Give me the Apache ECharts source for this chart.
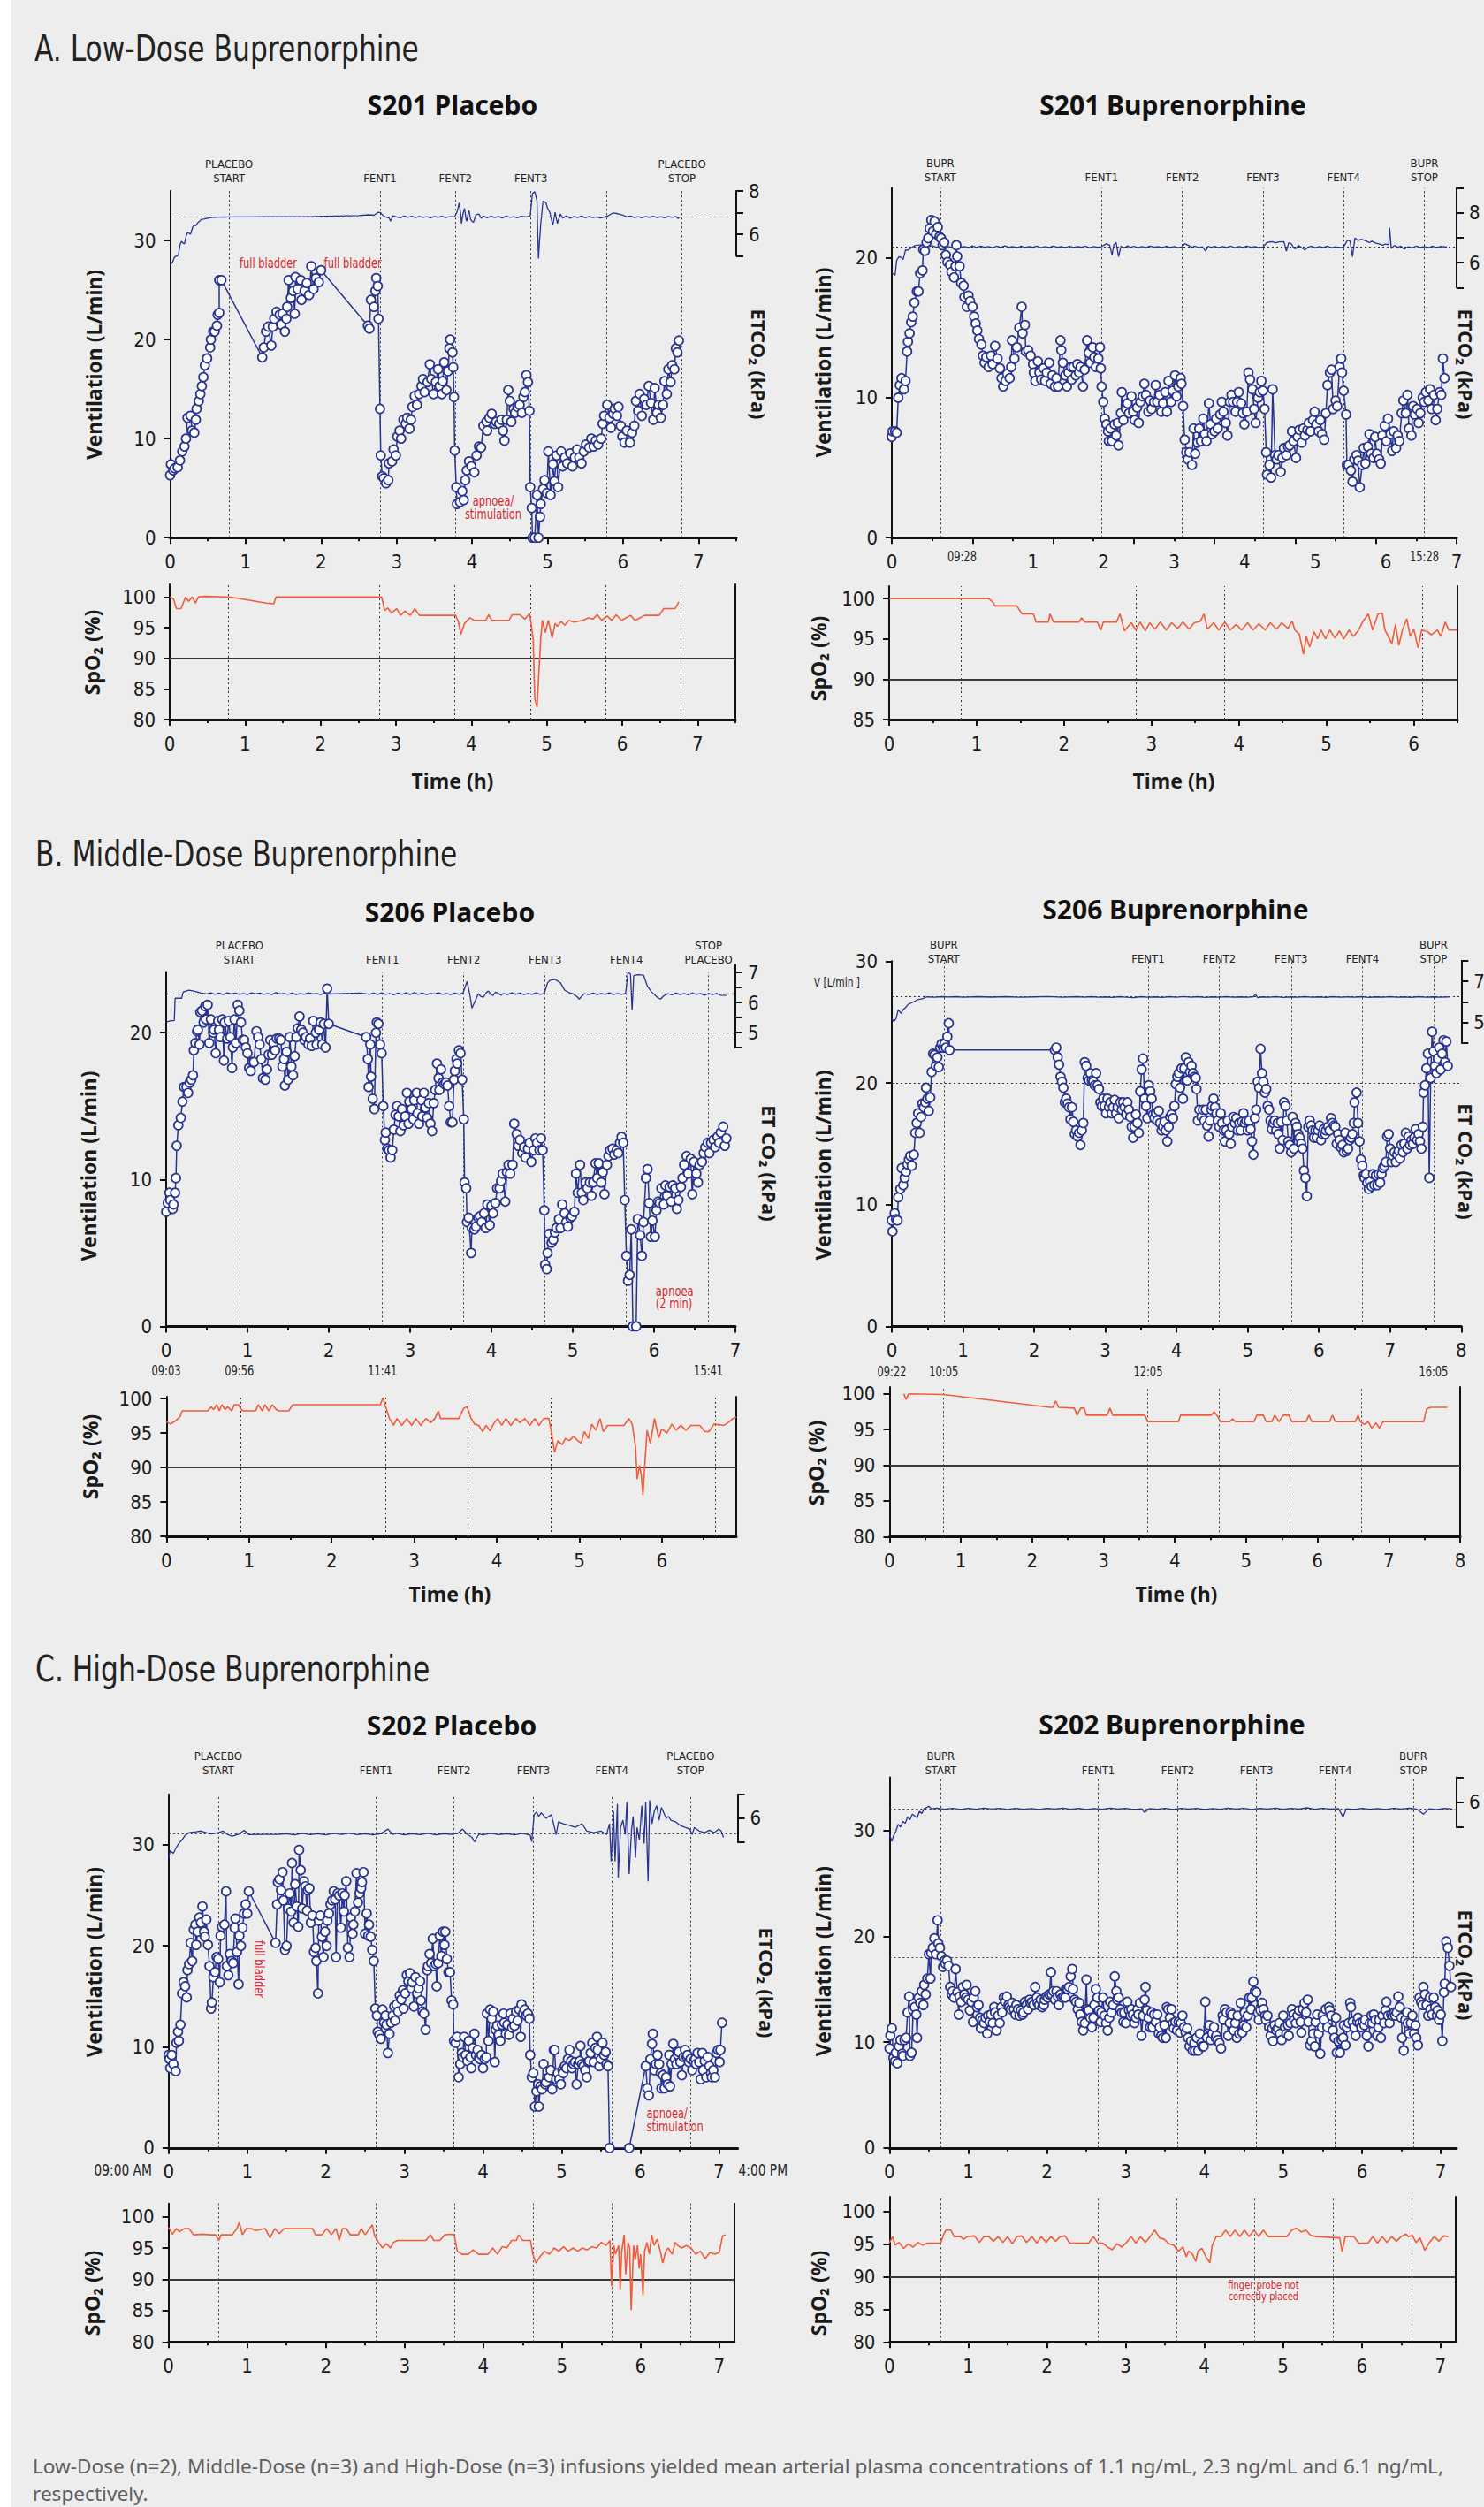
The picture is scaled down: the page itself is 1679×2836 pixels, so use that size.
<!DOCTYPE html>
<html><head><meta charset="utf-8">
<script src="https://cdn.jsdelivr.net/npm/echarts@6/dist/echarts.min.js"></script>
<style>
html,body{margin:0;padding:0;background:#ededed;}
#c{width:1679px;height:2836px;background:linear-gradient(to right,#ffffff 0,#ffffff 13px,#ededed 13px);}
</style></head><body><div id="c"></div>
<script>
// ---------------- DATA ----------------
// Time in hours, ventilation in L/min, ETCO2 in kPa, SpO2 in %
const ventA1 = [[0,6.3],[0.01,7.4],[0.04,6.8],[0.06,7.0],[0.1,7.1],[0.13,7.8],[0.16,8.7],[0.19,9.2],[0.21,10.0],[0.23,12.1],[0.27,12.3],[0.29,10.8],[0.32,10.6],[0.34,11.9],[0.35,13.0],[0.38,13.8],[0.4,14.5],[0.42,15.3],[0.44,16.2],[0.46,17.4],[0.49,18.1],[0.53,19.2],[0.54,20.0],[0.57,20.8],[0.59,20.8],[0.62,21.4],[0.63,22.5],[0.65,22.7],[0.65,26.0],[0.68,26.0],
[1.22,18.2],[1.24,19.2],[1.27,20.8],[1.3,21.3],[1.34,19.4],[1.36,21.3],[1.38,22.1],[1.41,22.8],[1.45,22.5],[1.47,21.5],[1.49,22.6],[1.52,20.8],[1.54,22.1],[1.55,23.3],[1.57,26.0],[1.6,24.2],[1.63,24.9],[1.65,22.6],[1.66,26.3],[1.69,25.1],[1.73,26.0],[1.74,24.0],[1.78,24.9],[1.81,25.7],[1.84,24.5],[1.87,27.4],[1.9,25.1],[1.93,26.2],[1.97,25.8],[2.0,27.0],
[2.62,21.4],[2.64,21.1],[2.66,24.0],[2.7,23.3],[2.72,24.9],[2.73,26.2],[2.75,25.4],[2.76,22.1],[2.78,13.0],[2.79,8.3],[2.81,6.2],[2.83,6.0],[2.86,5.5],[2.89,5.8],[2.9,7.5],[2.94,7.7],[2.96,8.9],[2.99,8.3],[3.01,10.2],[3.04,10.8],[3.06,10.0],[3.09,11.9],[3.12,11.5],[3.14,12.1],[3.17,11.0],[3.19,11.9],[3.21,13.2],[3.24,14.3],[3.27,13.4],[3.3,14.5],[3.33,15.3],[3.35,16.0],[3.37,14.7],[3.41,15.7],[3.44,17.5],[3.46,16.0],[3.49,14.5],[3.52,15.7],[3.55,17.0],[3.57,15.3],[3.6,14.5],[3.61,15.8],[3.63,17.7],[3.66,14.9],[3.68,16.8],[3.7,19.1],[3.71,20.0],[3.74,18.7],[3.75,17.2],[3.76,14.2],[3.77,8.8],[3.79,5.1],[3.8,3.4],[3.84,3.6],[3.87,4.7],[3.89,3.8],[3.91,5.8],[3.93,6.8],[3.96,7.7],[3.99,7.2],[4.03,6.6],[4.06,8.3],[4.09,9.2],[4.12,9.1],[4.15,11.3],[4.19,11.7],[4.2,10.8],[4.23,12.1],[4.26,12.5],[4.3,11.5],[4.32,11.7],[4.36,11.5],[4.39,11.9],[4.41,10.8],[4.43,9.8],[4.46,11.9],[4.48,14.9],[4.5,13.8],[4.52,11.7],[4.55,13.0],[4.57,12.6],[4.6,13.2],[4.63,13.4],[4.66,12.6],[4.68,14.2],[4.7,14.7],[4.72,16.4],[4.74,15.7],[4.76,12.8],[4.77,5.1],[4.79,3.0],[4.8,0],[4.83,0],[4.86,4.3],[4.88,0],[4.9,2.1],[4.91,3.4],[4.94,4.9],[4.96,5.8],[4.99,4.5],[5.01,8.7],[5.04,4.3],[5.07,7.4],[5.09,5.7],[5.12,8.3],[5.14,5.1],[5.18,8.7],[5.2,7.2],[5.23,8.1],[5.26,7.5],[5.3,8.5],[5.33,7.2],[5.36,8.1],[5.39,8.9],[5.42,8.1],[5.45,7.5],[5.48,8.7],[5.51,9.4],[5.55,9.1],[5.58,10.0],[5.61,9.2],[5.64,9.8],[5.67,9.4],[5.71,10.0],[5.73,11.5],[5.75,12.3],[5.79,13.4],[5.82,12.1],[5.84,11.1],[5.87,12.5],[5.89,13.0],[5.92,12.3],[5.94,13.2],[5.97,11.3],[5.99,10.2],[6.02,9.6],[6.05,10.8],[6.09,9.6],[6.12,10.6],[6.15,11.3],[6.17,13.8],[6.2,12.8],[6.22,14.5],[6.25,12.3],[6.28,14.0],[6.31,13.4],[6.34,15.3],[6.37,13.6],[6.4,11.9],[6.42,15.1],[6.45,12.6],[6.47,13.4],[6.5,12.1],[6.53,13.4],[6.55,15.8],[6.58,14.5],[6.6,17.0],[6.63,15.7],[6.65,17.4],[6.68,17.0],[6.7,19.1],[6.72,18.7],[6.74,19.9]];
const etA1 = [[0,4.62],[0.03,4.7],[0.06,4.96],[0.09,5.0],[0.11,5.05],[0.13,5.5],[0.15,5.68],[0.17,5.6],[0.19,5.56],[0.21,5.9],[0.23,6.08],[0.25,6.05],[0.27,6.0],[0.3,6.35],[0.32,6.42],[0.34,6.4],[0.36,6.51],[0.39,6.6],[0.41,6.68],[0.46,6.71],[0.54,6.77],[0.65,6.79],[0.78,6.8],[1.0,6.8],[1.3,6.81],[1.6,6.81],[1.9,6.82],[2.2,6.84],[2.5,6.86],[2.63,6.9],[2.7,6.88],[2.76,7.02],[2.79,7.0],[2.81,6.9],[2.85,6.8],[2.9,6.75],[2.92,6.6],[2.95,6.85],[3.0,6.8],[3.05,6.76],[3.1,6.84],[3.15,6.78],[3.2,6.83],[3.25,6.77],[3.3,6.82],[3.35,6.78],[3.4,6.81],[3.45,6.76],[3.5,6.82],[3.55,6.78],[3.6,6.83],[3.65,6.77],[3.7,6.81],[3.77,6.82],[3.8,7.02],[3.83,7.45],[3.85,6.9],[3.86,6.5],[3.88,6.95],[3.9,7.2],[3.92,6.7],[3.93,6.6],[3.95,7.0],[3.96,7.1],[3.98,6.7],[4.0,6.6],[4.02,6.56],[4.05,6.9],[4.09,6.94],[4.12,6.74],[4.15,6.84],[4.2,6.76],[4.25,6.83],[4.3,6.77],[4.35,6.82],[4.4,6.75],[4.45,6.84],[4.5,6.78],[4.55,6.81],[4.6,6.76],[4.65,6.83],[4.72,6.8],[4.77,6.85],[4.8,7.88],[4.83,7.97],[4.86,7.54],[4.87,6.0],[4.88,4.88],[4.89,5.5],[4.91,6.5],[4.94,7.54],[4.98,7.45],[5.0,7.2],[5.03,7.02],[5.05,6.7],[5.07,6.42],[5.1,7.02],[5.13,6.5],[5.17,6.94],[5.2,6.75],[5.25,6.85],[5.3,6.74],[5.35,6.82],[5.4,6.77],[5.45,6.84],[5.5,6.76],[5.55,6.82],[5.6,6.77],[5.65,6.8],[5.7,6.75],[5.75,6.79],[5.8,6.85],[5.87,6.99],[5.93,6.95],[6.0,6.88],[6.05,6.8],[6.1,6.84],[6.15,6.77],[6.2,6.81],[6.25,6.76],[6.3,6.82],[6.35,6.78],[6.4,6.83],[6.45,6.77],[6.5,6.81],[6.55,6.76],[6.6,6.82],[6.65,6.78],[6.7,6.82],[6.73,6.72],[6.75,6.8]];
const spA1 = [[0,100],[0.05,99.7],[0.09,98.1],[0.15,98.1],[0.21,100],[0.25,99.3],[0.3,100],[0.34,99.0],[0.38,100],[0.46,100.1],[0.78,100],[0.9,99.8],[1.09,99.4],[1.28,99.0],[1.38,98.9],[1.41,100],[2.81,100],[2.85,97.8],[2.89,98.2],[2.94,97.4],[3.01,98.1],[3.06,97.0],[3.12,97.7],[3.19,97.0],[3.25,98.1],[3.31,97.0],[3.79,97.0],[3.83,95.9],[3.86,93.9],[3.91,95.7],[3.98,96.6],[4.04,96.2],[4.19,96.2],[4.23,97.1],[4.27,96.2],[4.5,96.2],[4.54,97.1],[4.64,97.1],[4.71,96.4],[4.77,97.3],[4.79,95.9],[4.82,93.0],[4.84,83.5],[4.87,82.0],[4.89,86.6],[4.92,93.3],[4.94,96.2],[4.98,94.2],[5.02,96.2],[5.07,93.3],[5.11,95.7],[5.14,95.2],[5.19,96.0],[5.24,95.4],[5.29,96.2],[5.36,95.9],[5.48,96.2],[5.55,96.6],[5.61,96.4],[5.67,97.1],[5.73,96.2],[5.8,96.9],[5.86,96.2],[5.92,97.1],[5.99,96.2],[6.11,97.0],[6.17,96.2],[6.3,97.0],[6.49,97.0],[6.55,98.1],[6.7,98.1],[6.75,99.2]];

const ventA2 = [[0,7.2],[0.01,7.6],[0.04,7.6],[0.06,7.5],[0.08,10.0],[0.1,10.9],[0.12,11.4],[0.15,10.6],[0.17,11.2],[0.19,13.3],[0.2,14.0],[0.22,14.6],[0.24,15.4],[0.26,15.8],[0.28,16.8],[0.31,17.6],[0.33,17.6],[0.35,18.9],[0.38,19.1],[0.39,20.6],[0.41,20.5],[0.43,21.1],[0.45,21.4],[0.47,22.1],[0.49,22.7],[0.51,21.9],[0.53,22.6],[0.55,21.7],[0.57,22.2],[0.59,21.5],[0.61,21.4],[0.63,20.9],[0.65,21.1],[0.67,20.2],[0.69,19.7],[0.72,19.5],[0.74,19.0],[0.77,18.6],[0.79,19.4],[0.8,20.9],[0.81,20.1],[0.84,19.4],[0.86,18.2],[0.89,18.0],[0.9,17.2],[0.93,16.5],[0.95,17.3],[0.97,16.9],[1.0,16.5],[1.02,15.8],[1.04,15.3],[1.06,14.8],[1.08,14.2],[1.11,13.8],[1.13,13.0],[1.15,12.5],[1.17,12.9],[1.2,12.2],[1.23,13.0],[1.25,12.4],[1.28,13.7],[1.31,12.8],[1.34,12.1],[1.36,11.4],[1.38,10.8],[1.41,11.2],[1.43,11.7],[1.46,11.4],[1.48,12.2],[1.49,14.1],[1.52,12.8],[1.55,13.6],[1.58,15.0],[1.61,16.5],[1.62,14.6],[1.65,15.2],[1.66,13.3],[1.69,13.4],[1.72,13.0],[1.75,12.4],[1.76,11.8],[1.78,11.2],[1.81,12.6],[1.83,11.8],[1.85,11.3],[1.88,12.1],[1.9,11.2],[1.92,11.8],[1.95,12.5],[1.97,11.0],[1.99,11.6],[2.02,10.8],[2.04,11.4],[2.06,10.8],[2.09,14.1],[2.1,13.4],[2.12,12.5],[2.15,11.6],[2.17,10.8],[2.19,11.8],[2.22,12.2],[2.23,11.3],[2.25,12.2],[2.28,11.6],[2.3,12.4],[2.32,11.8],[2.34,12.2],[2.37,10.8],[2.39,12.0],[2.42,14.1],[2.44,13.2],[2.46,12.5],[2.49,13.6],[2.51,12.9],[2.53,12.2],[2.56,12.8],[2.58,13.6],[2.59,12.1],[2.6,10.8],[2.62,9.7],[2.64,8.5],[2.66,8.1],[2.68,7.6],[2.69,6.9],[2.71,7.8],[2.73,6.9],[2.76,8.1],[2.78,7.3],[2.8,8.2],[2.81,6.6],[2.84,8.9],[2.85,10.4],[2.87,8.4],[2.9,9.2],[2.92,9.6],[2.94,8.9],[2.97,10.1],[2.99,9.0],[3.01,8.4],[3.04,9.3],[3.06,8.2],[3.08,9.7],[3.11,10.1],[3.13,11.0],[3.15,10.2],[3.18,9.0],[3.2,9.8],[3.22,9.2],[3.25,9.7],[3.27,10.9],[3.29,9.7],[3.32,10.2],[3.34,9.0],[3.36,9.6],[3.39,10.4],[3.41,9.0],[3.43,11.2],[3.46,9.7],[3.48,10.5],[3.51,11.6],[3.53,10.1],[3.55,10.8],[3.58,11.4],[3.59,11.0],[3.61,9.4],[3.63,7.0],[3.65,6.1],[3.67,5.6],[3.69,6.1],[3.72,5.2],[3.74,7.8],[3.76,6.0],[3.79,6.8],[3.81,7.8],[3.83,6.9],[3.86,8.5],[3.88,7.4],[3.9,6.9],[3.93,9.6],[3.95,8.1],[3.97,7.4],[4.0,7.6],[4.02,8.5],[4.04,7.8],[4.07,8.8],[4.09,9.7],[4.11,9.0],[4.14,8.2],[4.16,7.3],[4.19,9.7],[4.21,10.2],[4.23,9.7],[4.26,9.0],[4.28,9.7],[4.3,10.4],[4.33,9.6],[4.35,8.9],[4.37,8.1],[4.4,9.0],[4.42,11.8],[4.44,11.3],[4.47,10.6],[4.49,9.2],[4.51,8.2],[4.54,10.0],[4.56,10.4],[4.58,11.2],[4.6,10.5],[4.62,9.2],[4.64,6.1],[4.65,4.5],[4.68,5.2],[4.7,4.3],[4.72,10.6],[4.75,5.9],[4.77,5.6],[4.79,5.9],[4.82,4.7],[4.84,5.7],[4.86,6.4],[4.89,5.9],[4.91,6.5],[4.93,6.6],[4.96,7.6],[4.98,6.9],[5.01,5.7],[5.03,7.2],[5.05,7.7],[5.08,6.8],[5.1,7.8],[5.12,7.3],[5.15,7.7],[5.17,8.2],[5.19,7.6],[5.22,8.4],[5.24,9.0],[5.26,8.1],[5.29,7.6],[5.31,8.4],[5.33,7.4],[5.36,7.0],[5.38,8.9],[5.4,10.9],[5.43,11.8],[5.45,12.0],[5.47,9.2],[5.5,9.8],[5.52,9.4],[5.55,12.2],[5.57,12.8],[5.58,11.8],[5.6,10.5],[5.63,8.8],[5.64,5.2],[5.66,5.2],[5.69,4.8],[5.71,4.0],[5.73,5.6],[5.76,5.9],[5.78,5.5],[5.8,3.6],[5.83,5.2],[5.85,6.4],[5.87,5.3],[5.9,6.5],[5.92,7.4],[5.94,6.0],[5.97,5.7],[5.99,7.2],[6.01,6.0],[6.04,5.6],[6.06,5.3],[6.08,7.3],[6.11,8.0],[6.13,6.9],[6.15,8.5],[6.18,7.4],[6.2,6.2],[6.22,7.6],[6.25,6.4],[6.27,7.3],[6.29,6.9],[6.32,8.9],[6.34,9.8],[6.37,8.9],[6.39,10.2],[6.41,7.8],[6.44,7.3],[6.46,9.4],[6.48,8.8],[6.51,9.2],[6.53,8.2],[6.55,8.9],[6.58,10.0],[6.6,9.7],[6.62,10.4],[6.65,9.8],[6.67,10.6],[6.69,9.2],[6.72,10.2],[6.74,8.4],[6.76,9.2],[6.79,10.4],[6.81,10.2],[6.83,12.8],[6.85,11.4]];
const etA2 = [[0,5.57],[0.03,5.55],[0.04,5.49],[0.06,6.09],[0.09,6.24],[0.12,6.2],[0.14,6.12],[0.17,6.51],[0.2,6.5],[0.23,6.57],[0.29,6.69],[0.38,6.72],[0.45,6.64],[0.5,6.68],[0.55,6.62],[0.6,6.66],[0.65,6.6],[0.7,6.65],[0.75,6.61],[0.8,6.67],[0.85,6.62],[0.9,6.65],[0.95,6.6],[1.0,6.67],[1.05,6.61],[1.1,6.66],[1.15,6.62],[1.2,6.65],[1.25,6.6],[1.3,6.66],[1.35,6.61],[1.4,6.67],[1.45,6.62],[1.5,6.65],[1.55,6.6],[1.6,6.66],[1.65,6.61],[1.7,6.65],[1.75,6.62],[1.8,6.66],[1.85,6.6],[1.9,6.65],[1.95,6.61],[2.0,6.66],[2.05,6.62],[2.1,6.65],[2.15,6.6],[2.2,6.66],[2.25,6.61],[2.3,6.65],[2.35,6.62],[2.4,6.66],[2.45,6.6],[2.5,6.65],[2.55,6.62],[2.6,6.64],[2.66,6.76],[2.7,6.7],[2.73,6.31],[2.75,6.7],[2.78,6.81],[2.81,6.24],[2.84,6.66],[2.88,6.6],[2.92,6.67],[2.96,6.61],[3.0,6.66],[3.05,6.6],[3.1,6.65],[3.15,6.61],[3.2,6.66],[3.25,6.62],[3.3,6.65],[3.35,6.6],[3.4,6.66],[3.45,6.61],[3.5,6.65],[3.55,6.6],[3.6,6.64],[3.63,6.76],[3.67,6.7],[3.72,6.62],[3.76,6.66],[3.8,6.6],[3.85,6.64],[3.89,6.46],[3.92,6.66],[3.96,6.61],[4.0,6.66],[4.05,6.6],[4.1,6.65],[4.15,6.61],[4.2,6.66],[4.25,6.6],[4.3,6.65],[4.35,6.61],[4.4,6.66],[4.45,6.62],[4.5,6.65],[4.55,6.6],[4.6,6.63],[4.65,6.81],[4.71,6.84],[4.76,6.8],[4.8,6.83],[4.86,6.84],[4.89,6.46],[4.92,6.8],[4.95,6.76],[4.98,6.6],[5.0,6.55],[5.04,6.69],[5.08,6.6],[5.12,6.51],[5.16,6.62],[5.2,6.66],[5.25,6.6],[5.3,6.65],[5.35,6.61],[5.4,6.66],[5.45,6.6],[5.5,6.64],[5.55,6.6],[5.6,6.63],[5.65,6.91],[5.68,6.85],[5.71,6.24],[5.74,6.99],[5.78,6.88],[5.82,6.94],[5.88,6.87],[5.92,6.8],[5.95,6.86],[6.0,6.78],[6.03,6.76],[6.08,6.7],[6.12,6.74],[6.16,6.72],[6.17,7.4],[6.19,6.57],[6.23,6.69],[6.27,6.62],[6.31,6.66],[6.35,6.54],[6.4,6.64],[6.45,6.6],[6.5,6.66],[6.55,6.61],[6.6,6.65],[6.65,6.6],[6.7,6.66],[6.75,6.61],[6.8,6.65],[6.88,6.63]];
const spA2 = [[0,100],[1.14,100],[1.19,99.5],[1.21,99.1],[1.46,99.1],[1.52,98.1],[1.65,98.1],[1.68,97.1],[1.82,97.1],[1.84,98.1],[1.88,97.1],[2.17,97.1],[2.2,97.6],[2.24,97.1],[2.38,97.1],[2.42,96.1],[2.45,97.1],[2.6,97.1],[2.64,98.1],[2.69,96.0],[2.77,97.0],[2.82,96.1],[2.87,97.1],[2.93,96.0],[2.98,97.0],[3.04,96.2],[3.1,97.1],[3.17,96.1],[3.23,97.0],[3.3,96.3],[3.36,97.1],[3.43,96.2],[3.49,97.0],[3.56,97.2],[3.6,98.1],[3.64,96.2],[3.71,97.0],[3.77,96.1],[3.84,97.1],[3.9,96.1],[3.97,96.8],[4.03,96.1],[4.1,97.0],[4.16,96.1],[4.23,96.9],[4.3,96.1],[4.36,97.0],[4.43,96.2],[4.49,97.0],[4.56,96.3],[4.61,97.2],[4.64,96.1],[4.69,95.6],[4.74,93.1],[4.77,95.3],[4.81,94.0],[4.86,95.9],[4.9,95.0],[4.94,96.1],[4.99,95.0],[5.04,96.1],[5.1,95.1],[5.15,96.0],[5.2,95.0],[5.26,96.1],[5.31,95.3],[5.37,96.1],[5.42,97.2],[5.48,98.1],[5.53,96.1],[5.59,98.1],[5.64,98.2],[5.67,96.1],[5.75,94.4],[5.79,96.8],[5.83,94.2],[5.87,96.1],[5.92,97.5],[5.96,95.3],[6.0,96.2],[6.05,93.9],[6.09,96.1],[6.16,95.9],[6.2,95.5],[6.27,96.1],[6.31,95.3],[6.36,97.1],[6.4,96.1],[6.5,96.1]];

const ventB1 = [[0,7.8],[0.02,8.4],[0.04,9.1],[0.05,8.6],[0.08,8.0],[0.09,8.3],[0.11,9.1],[0.12,10.1],[0.13,12.3],[0.15,13.7],[0.18,14.2],[0.2,15.3],[0.22,16.3],[0.25,16.3],[0.27,15.9],[0.29,16.6],[0.31,16.8],[0.33,17.1],[0.34,18.8],[0.36,19.3],[0.38,20.1],[0.39,20.2],[0.41,19.2],[0.42,21.4],[0.44,21.5],[0.46,20.7],[0.48,21.8],[0.49,20.9],[0.51,21.9],[0.53,19.3],[0.55,20.9],[0.58,20.0],[0.59,20.2],[0.61,18.6],[0.64,20.8],[0.65,20.2],[0.67,19.7],[0.69,20.9],[0.71,18.1],[0.72,20.7],[0.75,19.6],[0.77,20.8],[0.79,19.7],[0.81,17.6],[0.82,19.0],[0.84,20.9],[0.86,19.3],[0.88,21.9],[0.9,21.5],[0.92,20.7],[0.94,19.5],[0.96,19.5],[0.98,19.0],[1.0,18.6],[1.02,17.6],[1.04,17.4],[1.06,18.0],[1.08,18.0],[1.11,20.1],[1.13,19.7],[1.15,19.2],[1.17,18.2],[1.19,16.9],[1.22,16.8],[1.24,17.5],[1.26,18.5],[1.28,19.5],[1.3,18.5],[1.32,19.3],[1.34,18.8],[1.36,19.6],[1.39,19.6],[1.41,19.5],[1.43,17.7],[1.45,18.2],[1.46,16.4],[1.48,18.7],[1.5,16.8],[1.52,19.7],[1.54,17.7],[1.56,17.1],[1.58,18.4],[1.6,19.7],[1.62,20.3],[1.64,21.1],[1.66,20.2],[1.68,20.0],[1.7,19.5],[1.72,19.7],[1.75,19.2],[1.77,19.6],[1.79,19.1],[1.81,20.8],[1.84,20.0],[1.85,19.2],[1.88,20.2],[1.9,20.7],[1.92,19.2],[1.94,20.6],[1.96,19.0],[1.98,23.0],[2.0,20.6],
[2.46,19.7],[2.48,18.2],[2.49,16.3],[2.51,19.2],[2.52,17.0],[2.54,15.5],[2.56,14.8],[2.58,20.0],[2.59,20.7],[2.61,20.6],[2.63,19.2],[2.65,18.6],[2.67,15.0],[2.69,12.7],[2.7,13.2],[2.72,12.1],[2.74,12.0],[2.76,11.5],[2.78,12.0],[2.8,13.4],[2.82,14.4],[2.84,15.0],[2.86,14.3],[2.88,13.3],[2.9,14.8],[2.92,13.7],[2.94,14.3],[2.96,15.9],[2.98,13.8],[2.99,15.3],[3.02,14.8],[3.04,14.1],[3.05,15.4],[3.08,15.9],[3.09,14.5],[3.11,13.8],[3.14,15.4],[3.15,14.3],[3.17,15.9],[3.19,14.9],[3.21,14.2],[3.23,15.2],[3.25,13.8],[3.27,13.3],[3.29,15.2],[3.31,16.1],[3.33,17.9],[3.35,16.9],[3.36,16.1],[3.38,17.5],[3.4,16.6],[3.42,16.5],[3.44,16.6],[3.46,16.4],[3.48,15.0],[3.5,13.9],[3.52,13.9],[3.54,16.8],[3.55,17.4],[3.57,18.2],[3.58,17.9],[3.6,18.8],[3.62,18.6],[3.64,16.8],[3.66,14.1],[3.67,9.8],[3.69,9.4],[3.7,7.1],[3.72,7.4],[3.75,5.0],[3.76,6.7],[3.79,6.6],[3.81,6.8],[3.84,7.4],[3.86,7.5],[3.88,7.1],[3.91,7.7],[3.93,6.7],[3.95,8.3],[3.98,6.9],[4.0,8.2],[4.02,7.7],[4.05,8.4],[4.07,9.4],[4.1,9.4],[4.12,9.9],[4.14,10.4],[4.17,8.5],[4.19,10.5],[4.21,11.0],[4.23,10.4],[4.26,11.0],[4.28,13.8],[4.31,13.1],[4.33,12.3],[4.35,12.7],[4.38,11.8],[4.4,12.2],[4.42,11.5],[4.45,12.1],[4.47,12.5],[4.49,11.2],[4.52,12.0],[4.54,12.8],[4.56,12.5],[4.59,12.0],[4.61,12.8],[4.63,12.0],[4.65,7.9],[4.66,4.2],[4.68,3.9],[4.69,5.0],[4.71,6.3],[4.74,5.7],[4.76,5.9],[4.78,6.4],[4.8,6.7],[4.83,7.3],[4.85,6.7],[4.87,8.3],[4.9,7.7],[4.92,7.1],[4.94,6.8],[4.97,7.4],[4.99,7.5],[5.02,7.8],[5.04,10.4],[5.06,9.1],[5.09,11.0],[5.11,9.1],[5.13,8.6],[5.16,9.8],[5.18,9.4],[5.21,9.8],[5.23,8.9],[5.25,9.8],[5.28,11.1],[5.3,10.1],[5.32,11.1],[5.35,9.8],[5.37,10.5],[5.39,9.0],[5.42,11.0],[5.44,11.6],[5.46,12.0],[5.49,12.1],[5.51,11.7],[5.54,12.0],[5.56,11.8],[5.58,12.5],[5.6,12.9],[5.62,12.5],[5.64,8.6],[5.66,4.8],[5.68,3.1],[5.7,3.5],[5.72,6.6],[5.74,0],[5.78,0],[5.8,7.3],[5.83,6.2],[5.85,4.8],[5.87,7.1],[5.9,10.1],[5.92,10.7],[5.94,8.4],[5.96,6.1],[5.98,7.2],[6.01,6.1],[6.03,7.9],[6.05,8.5],[6.07,8.4],[6.09,9.4],[6.12,8.3],[6.14,9.6],[6.16,8.9],[6.19,9.5],[6.21,8.5],[6.23,9.6],[6.26,9.4],[6.28,8.0],[6.3,8.6],[6.33,9.5],[6.35,10.1],[6.37,11.0],[6.4,11.6],[6.42,10.4],[6.45,11.4],[6.47,9.0],[6.49,11.2],[6.52,10.4],[6.54,9.8],[6.56,11.0],[6.59,11.2],[6.61,11.8],[6.63,12.2],[6.66,12.5],[6.68,11.8],[6.7,12.5],[6.73,12.7],[6.75,12.2],[6.78,12.9],[6.8,12.5],[6.82,13.2],[6.85,13.6],[6.87,12.3],[6.89,12.8]];
const etB1 = [[0,5.35],[0.06,5.39],[0.1,5.4],[0.11,6.14],[0.19,6.14],[0.21,6.35],[0.28,6.41],[0.34,6.38],[0.43,6.31],[0.5,6.28],[0.55,6.32],[0.6,6.27],[0.65,6.31],[0.7,6.26],[0.75,6.32],[0.8,6.28],[0.85,6.31],[0.9,6.27],[0.95,6.3],[1.0,6.26],[1.05,6.32],[1.1,6.28],[1.15,6.31],[1.2,6.27],[1.25,6.3],[1.3,6.26],[1.35,6.33],[1.4,6.28],[1.45,6.3],[1.5,6.27],[1.55,6.31],[1.6,6.26],[1.65,6.3],[1.7,6.27],[1.75,6.32],[1.8,6.28],[1.85,6.3],[1.9,6.26],[1.95,6.31],[2.0,6.28],[2.2,6.3],[2.4,6.31],[2.5,6.27],[2.55,6.31],[2.6,6.26],[2.65,6.32],[2.7,6.27],[2.75,6.3],[2.8,6.25],[2.85,6.31],[2.9,6.27],[2.95,6.32],[3.0,6.26],[3.05,6.33],[3.1,6.27],[3.15,6.31],[3.2,6.26],[3.25,6.3],[3.3,6.28],[3.35,6.32],[3.4,6.27],[3.45,6.3],[3.5,6.26],[3.55,6.31],[3.6,6.27],[3.65,6.31],[3.7,6.7],[3.72,6.45],[3.74,6.17],[3.76,5.81],[3.8,6.05],[3.84,6.29],[3.87,6.2],[3.9,6.17],[3.93,6.3],[3.96,6.38],[4.0,6.25],[4.02,6.23],[4.05,6.34],[4.08,6.31],[4.12,6.24],[4.15,6.3],[4.2,6.26],[4.25,6.32],[4.3,6.27],[4.35,6.31],[4.4,6.26],[4.45,6.3],[4.5,6.27],[4.55,6.32],[4.6,6.27],[4.65,6.3],[4.69,6.65],[4.72,6.74],[4.78,6.77],[4.85,6.65],[4.9,6.41],[4.95,6.33],[5.0,6.29],[5.05,6.2],[5.08,6.11],[5.14,6.29],[5.2,6.26],[5.25,6.31],[5.3,6.26],[5.35,6.3],[5.4,6.27],[5.45,6.32],[5.5,6.26],[5.55,6.3],[5.6,6.27],[5.65,6.3],[5.68,7.0],[5.71,6.95],[5.73,5.75],[5.75,6.89],[5.8,6.92],[5.87,6.91],[5.92,6.53],[5.97,6.35],[6.04,6.17],[6.08,6.11],[6.12,6.22],[6.17,6.29],[6.22,6.25],[6.27,6.31],[6.32,6.26],[6.37,6.3],[6.42,6.25],[6.47,6.31],[6.52,6.27],[6.57,6.3],[6.62,6.24],[6.67,6.3],[6.72,6.26],[6.77,6.3],[6.82,6.24],[6.89,6.23]];
const spB1 = [[0,96.6],[0.05,96.3],[0.1,96.7],[0.16,97.3],[0.19,98.2],[0.23,98.2],[0.5,98.2],[0.54,98.8],[0.57,98.4],[0.61,99.1],[0.64,98.2],[0.67,99.1],[0.71,98.4],[0.74,98.8],[0.79,98.2],[0.82,99.1],[0.87,99.1],[0.92,98.2],[1.08,98.2],[1.11,99.1],[1.16,98.2],[1.19,99.1],[1.24,98.2],[1.28,99.1],[1.33,98.4],[1.36,98.2],[1.48,98.2],[1.53,99.1],[2.59,99.1],[2.62,100.1],[2.66,98.6],[2.7,97.1],[2.75,96.1],[2.79,97.1],[2.85,96.1],[2.91,97.1],[2.97,96.1],[3.02,97.1],[3.08,96.1],[3.14,97.1],[3.2,96.5],[3.25,97.1],[3.29,98.2],[3.32,97.1],[3.54,97.1],[3.6,98.6],[3.64,98.8],[3.69,97.1],[3.73,96.3],[3.78,96.1],[3.83,95.2],[3.87,96.1],[3.92,95.3],[3.96,96.3],[4.01,97.1],[4.06,96.1],[4.11,97.1],[4.17,96.1],[4.23,97.1],[4.28,96.5],[4.34,97.1],[4.4,96.1],[4.46,97.1],[4.51,96.1],[4.57,97.1],[4.63,97.1],[4.66,95.2],[4.7,92.2],[4.74,93.9],[4.79,93.3],[4.83,94.2],[4.88,93.9],[4.93,94.5],[4.97,94.0],[5.02,93.5],[5.06,95.2],[5.11,94.2],[5.15,96.3],[5.2,95.4],[5.25,97.1],[5.29,95.2],[5.34,96.1],[5.54,96.1],[5.6,97.1],[5.64,96.3],[5.68,93.0],[5.7,88.3],[5.73,90.3],[5.75,88.8],[5.77,86.0],[5.8,91.8],[5.82,95.4],[5.86,93.5],[5.91,97.1],[5.96,94.3],[6.0,95.6],[6.06,95.0],[6.12,96.3],[6.17,95.4],[6.23,96.1],[6.29,95.4],[6.35,96.1],[6.46,96.1],[6.52,95.2],[6.57,95.2],[6.63,96.3],[6.75,96.1],[6.8,96.5],[6.86,97.1],[6.9,97.3]];

const ventB2 = [[0,8.7],[0.01,7.8],[0.04,9.3],[0.06,8.8],[0.08,8.7],[0.09,10.6],[0.12,11.3],[0.14,13.0],[0.16,11.6],[0.18,12.2],[0.2,12.7],[0.22,13.3],[0.24,13.7],[0.26,14.0],[0.28,13.2],[0.31,14.1],[0.33,15.9],[0.35,16.7],[0.37,17.5],[0.39,15.9],[0.41,17.2],[0.43,18.3],[0.45,18.0],[0.47,18.4],[0.48,19.6],[0.5,18.7],[0.52,17.7],[0.54,18.8],[0.56,20.9],[0.58,22.4],[0.6,22.3],[0.62,21.4],[0.64,22.1],[0.66,21.3],[0.68,22.9],[0.7,23.2],[0.72,22.9],[0.74,23.2],[0.76,22.9],[0.78,23.8],[0.8,24.9],[0.81,22.7],
[2.29,22.7],[2.31,22.9],[2.33,22.1],[2.35,21.5],[2.37,20.5],[2.39,20.1],[2.41,19.6],[2.43,18.4],[2.45,18.7],[2.47,18.3],[2.49,18.0],[2.51,17.0],[2.53,18.0],[2.55,16.8],[2.57,15.8],[2.59,16.1],[2.61,15.6],[2.63,15.9],[2.65,14.9],[2.67,16.1],[2.69,16.7],[2.71,21.7],[2.73,21.4],[2.75,20.4],[2.77,20.2],[2.79,20.8],[2.81,20.2],[2.83,20.1],[2.85,19.8],[2.87,20.8],[2.89,19.8],[2.91,19.5],[2.93,18.4],[2.95,18.1],[2.97,18.7],[2.99,18.1],[3.01,17.5],[3.03,18.7],[3.05,18.0],[3.07,18.4],[3.09,17.5],[3.11,18.0],[3.13,18.6],[3.15,17.5],[3.17,18.0],[3.19,17.1],[3.21,18.4],[3.23,17.8],[3.25,18.4],[3.27,18.0],[3.29,17.4],[3.31,18.4],[3.33,17.8],[3.35,17.2],[3.37,16.4],[3.39,15.5],[3.41,16.4],[3.43,17.4],[3.45,16.7],[3.47,15.9],[3.49,19.3],[3.51,21.1],[3.53,22.0],[3.55,18.7],[3.57,18.1],[3.59,17.1],[3.61,19.8],[3.63,19.3],[3.65,18.7],[3.67,17.4],[3.69,17.1],[3.71,17.5],[3.73,16.9],[3.75,17.7],[3.77,16.7],[3.79,16.1],[3.81,16.4],[3.83,16.8],[3.85,16.1],[3.87,15.2],[3.89,16.4],[3.91,17.2],[3.93,17.4],[3.95,17.1],[3.97,18.1],[3.99,19.9],[4.01,20.5],[4.03,20.8],[4.05,19.6],[4.07,21.2],[4.09,18.7],[4.11,21.2],[4.13,22.1],[4.15,20.2],[4.17,21.7],[4.19,20.9],[4.21,21.4],[4.23,20.8],[4.25,20.5],[4.27,20.4],[4.28,19.5],[4.3,16.9],[4.32,17.8],[4.35,17.2],[4.37,17.8],[4.39,16.9],[4.41,17.8],[4.43,16.5],[4.45,15.6],[4.47,16.9],[4.49,17.8],[4.5,18.1],[4.52,18.7],[4.54,18.0],[4.56,17.5],[4.58,16.9],[4.6,16.4],[4.62,17.5],[4.64,16.7],[4.66,16.1],[4.68,15.2],[4.7,16.1],[4.72,16.9],[4.74,15.8],[4.76,15.0],[4.78,16.4],[4.8,17.2],[4.82,16.7],[4.84,17.1],[4.86,16.1],[4.88,16.7],[4.9,16.1],[4.92,16.8],[4.94,17.5],[4.96,16.7],[4.98,16.9],[5.0,16.1],[5.02,16.9],[5.04,16.2],[5.06,15.2],[5.08,14.1],[5.1,17.1],[5.12,17.8],[5.14,20.1],[5.16,19.6],[5.18,22.8],[5.2,20.8],[5.22,20.1],[5.24,19.2],[5.26,19.5],[5.28,18.1],[5.3,17.8],[5.32,16.9],[5.34,16.2],[5.36,16.7],[5.38,16.9],[5.4,16.1],[5.42,16.7],[5.43,15.8],[5.45,14.6],[5.47,16.8],[5.49,15.3],[5.51,18.4],[5.53,18.1],[5.55,16.9],[5.57,15.2],[5.59,14.9],[5.61,14.3],[5.63,17.2],[5.65,14.6],[5.67,16.7],[5.69,16.4],[5.71,15.8],[5.73,15.5],[5.75,15.0],[5.77,14.6],[5.79,12.8],[5.81,12.2],[5.83,10.7],[5.85,16.4],[5.87,16.9],[5.89,16.5],[5.91,16.1],[5.93,15.5],[5.95,16.1],[5.97,15.5],[5.99,16.1],[6.01,16.5],[6.03,15.3],[6.05,15.8],[6.07,16.2],[6.09,15.8],[6.1,16.1],[6.13,16.4],[6.15,16.1],[6.17,17.1],[6.19,16.7],[6.21,16.5],[6.23,16.4],[6.25,15.0],[6.27,15.8],[6.29,15.3],[6.31,14.7],[6.33,14.9],[6.35,14.3],[6.37,15.9],[6.39,14.4],[6.41,14.6],[6.43,15.3],[6.45,15.5],[6.47,15.8],[6.49,16.7],[6.5,18.4],[6.53,19.2],[6.55,16.7],[6.57,15.2],[6.59,13.7],[6.61,13.2],[6.63,12.4],[6.64,12.2],[6.66,12.5],[6.68,11.8],[6.7,11.3],[6.72,11.9],[6.74,11.5],[6.76,12.5],[6.78,11.6],[6.8,12.4],[6.82,11.6],[6.84,12.5],[6.86,11.8],[6.88,12.5],[6.9,13.0],[6.92,13.2],[6.94,13.5],[6.96,15.6],[6.98,15.8],[7.0,14.6],[7.02,13.5],[7.04,14.0],[7.06,14.3],[7.08,13.5],[7.1,14.1],[7.12,14.4],[7.14,13.8],[7.16,14.9],[7.18,14.3],[7.2,15.0],[7.22,15.9],[7.24,14.6],[7.26,15.6],[7.28,14.9],[7.3,15.3],[7.32,15.0],[7.34,15.5],[7.36,16.2],[7.38,15.3],[7.4,15.8],[7.42,15.2],[7.44,14.6],[7.46,16.4],[7.47,19.2],[7.49,19.8],[7.51,21.2],[7.53,22.4],[7.55,12.2],[7.57,20.4],[7.59,24.2],[7.61,22.6],[7.63,21.4],[7.65,20.8],[7.67,22.0],[7.69,22.9],[7.71,21.1],[7.73,22.4],[7.75,23.5],[7.77,21.7],[7.79,23.4],[7.81,21.4]];
const etB2 = [[0,5.18],[0.03,5.04],[0.06,5.18],[0.09,5.62],[0.13,5.44],[0.16,5.62],[0.19,5.71],[0.23,5.88],[0.29,5.97],[0.36,6.1],[0.43,6.15],[0.49,6.24],[0.6,6.22],[0.7,6.25],[0.8,6.23],[0.9,6.25],[1.0,6.22],[1.2,6.25],[1.4,6.23],[1.6,6.25],[1.8,6.22],[2.0,6.24],[2.2,6.26],[2.4,6.22],[2.6,6.25],[2.7,6.22],[2.8,6.25],[2.9,6.22],[3.0,6.24],[3.1,6.21],[3.2,6.25],[3.3,6.22],[3.4,6.2],[3.5,6.25],[3.6,6.22],[3.7,6.24],[3.8,6.21],[3.9,6.25],[4.0,6.22],[4.1,6.26],[4.2,6.22],[4.3,6.25],[4.4,6.21],[4.5,6.24],[4.6,6.22],[4.7,6.25],[4.8,6.22],[4.9,6.24],[5.0,6.22],[5.08,6.25],[5.11,6.36],[5.14,6.2],[5.2,6.24],[5.3,6.22],[5.4,6.25],[5.5,6.21],[5.6,6.24],[5.7,6.22],[5.8,6.25],[5.9,6.22],[6.0,6.24],[6.1,6.21],[6.2,6.25],[6.3,6.22],[6.4,6.24],[6.5,6.22],[6.6,6.25],[6.7,6.21],[6.8,6.24],[6.9,6.22],[7.0,6.25],[7.1,6.22],[7.2,6.24],[7.3,6.21],[7.4,6.25],[7.5,6.22],[7.6,6.24],[7.7,6.22],[7.83,6.24]];
const spB2 = [[0.2,100],[0.23,99.2],[0.27,100],[0.76,99.9],[2.25,98.1],[2.29,98.1],[2.33,99.0],[2.37,98.1],[2.59,98.0],[2.63,97.0],[2.68,98.0],[2.73,98.0],[2.76,97.0],[3.05,97.0],[3.09,98.0],[3.13,97.0],[3.58,97.0],[3.62,96.1],[4.05,96.1],[4.08,97.0],[4.51,97.0],[4.55,97.5],[4.59,97.0],[4.64,96.1],[4.77,96.1],[4.81,96.5],[4.85,96.1],[5.11,96.1],[5.15,97.0],[5.24,97.0],[5.28,96.1],[5.36,96.1],[5.4,97.0],[5.46,96.1],[5.52,97.0],[5.6,97.0],[5.64,96.1],[5.84,96.1],[5.88,97.0],[5.92,96.1],[6.17,96.1],[6.21,97.0],[6.25,96.1],[6.53,96.1],[6.57,97.0],[6.6,96.1],[6.66,95.7],[6.71,96.1],[6.76,95.2],[6.82,95.9],[6.87,95.2],[6.92,96.1],[7.49,96.1],[7.53,97.9],[7.59,98.1],[7.82,98.1]];

const ventC1 = [[0,9.2],[0.01,8.8],[0.02,7.9],[0.04,9.2],[0.06,8.3],[0.09,7.6],[0.1,10.4],[0.12,11.5],[0.13,10.6],[0.15,12.2],[0.17,15.3],[0.19,16.4],[0.21,16.0],[0.23,14.9],[0.24,17.6],[0.26,18.2],[0.28,20.3],[0.3,18.5],[0.32,21.6],[0.34,22.1],[0.35,20.1],[0.37,21.4],[0.39,22.8],[0.41,22.3],[0.43,23.9],[0.45,21.4],[0.46,20.9],[0.48,22.6],[0.5,20.1],[0.52,18.0],[0.54,13.8],[0.55,14.4],[0.57,16.9],[0.59,17.4],[0.61,18.9],[0.63,18.7],[0.65,16.4],[0.66,21.0],[0.68,21.9],[0.71,22.1],[0.73,25.4],[0.74,18.0],[0.76,17.1],[0.78,19.2],[0.8,18.5],[0.82,18.3],[0.84,21.8],[0.85,22.7],[0.87,19.4],[0.89,16.2],[0.9,21.0],[0.92,20.0],[0.94,21.8],[0.96,23.2],[0.98,24.1],[1.0,23.2],[1.02,25.4],
[1.36,20.3],[1.38,24.1],[1.39,26.3],[1.41,26.6],[1.43,25.5],[1.45,27.3],[1.46,24.5],[1.48,19.6],[1.5,20.0],[1.52,23.7],[1.54,25.2],[1.56,23.4],[1.57,28.2],[1.59,22.3],[1.61,26.1],[1.63,23.9],[1.65,21.9],[1.66,29.5],[1.68,27.5],[1.7,23.7],[1.72,26.4],[1.74,25.9],[1.76,23.5],[1.77,25.5],[1.79,25.7],[1.81,22.3],[1.83,23.0],[1.85,19.4],[1.87,19.8],[1.88,18.5],[1.9,15.3],[1.91,22.5],[1.93,23.0],[1.95,20.9],[1.97,18.9],[1.99,21.4],[2.01,20.0],[2.02,22.5],[2.04,23.2],[2.06,24.1],[2.08,24.5],[2.1,25.4],[2.12,24.6],[2.13,18.9],[2.15,25.2],[2.17,25.0],[2.19,21.8],[2.21,25.2],[2.23,23.4],[2.24,25.0],[2.26,26.4],[2.28,19.8],[2.3,18.9],[2.32,22.8],[2.34,21.2],[2.35,22.1],[2.37,23.4],[2.39,27.2],[2.41,24.3],[2.43,25.2],[2.45,25.7],[2.46,26.3],[2.48,27.3],[2.5,21.2],[2.52,23.2],[2.54,21.0],[2.55,22.1],[2.57,20.9],[2.59,19.6],[2.61,18.5],[2.63,13.8],[2.65,13.1],[2.66,11.5],[2.68,11.2],[2.7,10.8],[2.72,13.7],[2.74,12.4],[2.76,13.1],[2.77,12.2],[2.79,9.4],[2.81,11.3],[2.83,12.4],[2.85,13.1],[2.87,14.0],[2.88,12.6],[2.9,14.2],[2.92,13.5],[2.94,15.1],[2.96,14.7],[2.98,15.6],[2.99,13.8],[3.01,15.3],[3.03,17.1],[3.05,16.5],[3.07,17.3],[3.09,15.8],[3.1,16.4],[3.12,14.0],[3.14,16.9],[3.16,15.3],[3.18,15.8],[3.2,16.5],[3.21,14.6],[3.23,13.5],[3.25,13.3],[3.27,11.7],[3.29,17.6],[3.3,18.0],[3.32,19.2],[3.34,18.3],[3.36,20.7],[3.38,18.0],[3.4,18.2],[3.41,16.0],[3.43,18.3],[3.45,21.0],[3.47,19.0],[3.49,21.4],[3.51,20.1],[3.52,21.4],[3.54,18.7],[3.56,17.4],[3.58,17.4],[3.6,14.6],[3.62,14.2],[3.63,10.6],[3.65,10.4],[3.67,11.0],[3.69,7.0],[3.71,8.3],[3.73,9.4],[3.74,9.0],[3.76,11.0],[3.78,9.2],[3.8,8.6],[3.82,10.6],[3.84,9.0],[3.85,7.9],[3.87,9.9],[3.89,11.3],[3.91,9.2],[3.93,9.7],[3.95,9.0],[3.96,8.8],[3.98,9.2],[4.0,7.9],[4.02,8.8],[4.04,9.0],[4.05,13.3],[4.07,10.6],[4.09,13.7],[4.11,12.8],[4.13,13.5],[4.15,8.5],[4.16,11.7],[4.18,12.1],[4.2,11.2],[4.22,10.6],[4.24,12.2],[4.26,13.3],[4.27,12.4],[4.29,11.3],[4.31,12.2],[4.33,11.2],[4.35,13.3],[4.37,11.9],[4.38,12.8],[4.4,12.1],[4.42,13.5],[4.44,12.6],[4.46,13.7],[4.48,11.0],[4.49,14.2],[4.51,13.3],[4.53,13.7],[4.55,13.1],[4.57,13.3],[4.59,12.8],[4.6,9.2],[4.62,7.0],[4.64,7.4],[4.66,4.1],[4.68,5.6],[4.7,6.3],[4.71,4.1],[4.73,6.1],[4.75,5.8],[4.77,8.3],[4.79,6.3],[4.8,6.5],[4.82,7.6],[4.84,7.0],[4.86,7.7],[4.88,5.8],[4.9,9.7],[4.91,9.7],[4.93,6.8],[4.95,7.4],[4.97,6.8],[4.99,6.3],[5.01,7.7],[5.02,7.4],[5.04,8.1],[5.06,7.9],[5.08,8.8],[5.1,9.7],[5.12,8.6],[5.13,7.9],[5.15,8.3],[5.17,8.5],[5.19,6.3],[5.21,8.3],[5.23,8.6],[5.24,10.1],[5.26,8.3],[5.28,8.1],[5.3,7.7],[5.32,7.0],[5.34,8.5],[5.35,8.6],[5.37,9.4],[5.39,10.4],[5.41,8.5],[5.43,9.9],[5.45,11.0],[5.46,9.7],[5.48,8.1],[5.5,8.8],[5.52,10.4],[5.54,9.2],[5.56,9.5],[5.57,8.3],[5.59,8.1],[5.61,0],[5.86,0],[6.07,8.1],[6.09,5.9],[6.11,5.2],[6.13,8.8],[6.15,10.3],[6.16,11.3],[6.18,7.7],[6.2,8.3],[6.22,9.2],[6.24,8.3],[6.26,7.4],[6.27,5.9],[6.29,7.2],[6.31,5.9],[6.33,7.0],[6.35,6.3],[6.37,9.2],[6.38,6.1],[6.4,8.3],[6.42,10.3],[6.44,8.8],[6.46,8.3],[6.48,9.2],[6.49,9.5],[6.51,8.5],[6.53,7.2],[6.55,9.0],[6.57,9.7],[6.59,9.0],[6.6,9.2],[6.62,8.5],[6.64,8.8],[6.66,7.7],[6.68,8.6],[6.7,8.8],[6.71,8.3],[6.73,9.4],[6.75,8.5],[6.77,6.8],[6.79,9.4],[6.8,7.7],[6.82,8.6],[6.84,7.0],[6.86,9.0],[6.88,8.1],[6.9,7.4],[6.91,7.0],[6.93,7.7],[6.95,7.0],[6.97,9.4],[6.99,9.7],[7.01,8.5],[7.02,9.7],[7.04,12.4]];
const etC1 = [[0,4.35],[0.02,4.65],[0.06,4.54],[0.1,4.8],[0.13,4.95],[0.17,5.1],[0.21,5.29],[0.26,5.4],[0.35,5.44],[0.41,5.47],[0.48,5.4],[0.54,5.35],[0.63,5.4],[0.69,5.47],[0.75,5.32],[0.81,5.25],[0.9,5.35],[0.96,5.5],[1.02,5.32],[1.2,5.33],[1.4,5.33],[1.5,5.36],[1.6,5.31],[1.7,5.37],[1.8,5.32],[1.9,5.36],[2.0,5.31],[2.1,5.37],[2.2,5.33],[2.3,5.38],[2.4,5.32],[2.5,5.36],[2.6,5.31],[2.7,5.36],[2.79,5.55],[2.85,5.33],[2.9,5.37],[3.0,5.31],[3.1,5.36],[3.2,5.32],[3.3,5.37],[3.4,5.31],[3.5,5.36],[3.6,5.33],[3.68,5.37],[3.74,5.55],[3.8,5.33],[3.86,5.2],[3.89,5.02],[3.95,5.35],[4.0,5.31],[4.1,5.37],[4.2,5.32],[4.3,5.36],[4.4,5.31],[4.5,5.37],[4.56,5.33],[4.6,5.3],[4.62,5.02],[4.65,6.15],[4.68,6.26],[4.71,6.08],[4.74,6.23],[4.8,6.0],[4.87,6.15],[4.93,5.32],[4.96,5.85],[5.02,5.77],[5.11,5.7],[5.17,5.62],[5.26,5.77],[5.32,5.47],[5.41,5.4],[5.5,5.47],[5.57,5.32],[5.61,5.77],[5.63,4.2],[5.66,6.3],[5.68,4.2],[5.71,6.6],[5.72,3.52],[5.75,5.62],[5.78,5.92],[5.81,5.32],[5.83,6.68],[5.86,3.67],[5.89,5.55],[5.91,6.08],[5.94,4.35],[5.96,5.62],[5.99,5.1],[6.02,6.53],[6.05,4.95],[6.07,6.68],[6.1,3.37],[6.12,6.75],[6.15,5.77],[6.18,6.3],[6.21,6.53],[6.24,5.92],[6.27,6.45],[6.3,6.23],[6.33,6.0],[6.36,6.08],[6.39,5.92],[6.45,5.85],[6.51,5.7],[6.57,5.62],[6.63,5.55],[6.66,5.32],[6.69,5.62],[6.75,5.47],[6.82,5.4],[6.88,5.5],[6.94,5.4],[7.0,5.55],[7.03,5.47],[7.06,5.2]];
const spC1 = [[0,98.3],[0.05,97.2],[0.1,98.1],[0.14,97.6],[0.2,98.1],[0.26,98.1],[0.32,97.1],[0.45,97.2],[0.53,97.1],[0.6,97.1],[0.64,96.2],[0.67,97.1],[0.81,97.1],[0.87,98.1],[0.9,99.1],[0.94,97.1],[0.99,98.1],[1.05,98.1],[1.11,97.8],[1.23,98.1],[1.29,96.6],[1.35,98.1],[1.41,97.3],[1.47,98.1],[1.83,98.1],[1.87,97.1],[1.95,97.1],[2.01,98.1],[2.07,97.1],[2.13,98.1],[2.17,96.2],[2.21,98.1],[2.26,98.1],[2.31,97.1],[2.41,97.1],[2.45,98.1],[2.5,97.1],[2.55,98.0],[2.59,98.7],[2.62,96.9],[2.67,95.9],[2.72,95.0],[2.77,95.7],[2.82,95.0],[2.86,95.9],[2.91,96.2],[3.27,96.2],[3.33,97.1],[3.37,96.2],[3.45,96.2],[3.51,97.1],[3.58,97.2],[3.63,97.1],[3.67,94.5],[3.73,94.0],[3.81,94.0],[3.87,94.7],[3.94,94.0],[4.06,94.0],[4.12,95.0],[4.18,94.0],[4.24,95.2],[4.3,95.0],[4.36,96.2],[4.42,96.2],[4.45,97.1],[4.5,96.2],[4.6,96.2],[4.63,94.0],[4.67,92.6],[4.72,93.6],[4.78,94.5],[4.84,94.0],[4.9,95.0],[4.96,94.5],[5.02,95.2],[5.08,94.5],[5.14,95.0],[5.2,94.5],[5.26,95.0],[5.32,94.7],[5.38,95.2],[5.44,95.0],[5.5,95.9],[5.56,95.4],[5.61,96.2],[5.63,88.9],[5.66,95.4],[5.68,94.0],[5.72,95.4],[5.74,88.4],[5.76,94.5],[5.79,97.1],[5.81,90.8],[5.84,95.9],[5.86,95.0],[5.88,85.1],[5.91,95.4],[5.93,93.1],[5.96,95.4],[5.98,91.7],[6.0,94.0],[6.03,87.5],[6.05,94.5],[6.08,95.9],[6.11,94.0],[6.14,97.1],[6.17,95.4],[6.21,96.4],[6.25,94.5],[6.28,92.6],[6.32,94.5],[6.35,95.0],[6.4,94.0],[6.44,95.9],[6.47,95.4],[6.52,95.0],[6.58,95.4],[6.64,95.0],[6.7,94.0],[6.76,94.5],[6.82,93.3],[6.88,94.3],[6.94,94.0],[7.0,94.3],[7.04,96.9],[7.08,97.1]];

const ventC2 = [[0,9.4],[0.01,10.6],[0.03,11.3],[0.05,8.5],[0.07,8.2],[0.08,9.0],[0.1,8.0],[0.12,9.6],[0.14,10.2],[0.16,8.9],[0.17,8.7],[0.19,10.2],[0.21,10.4],[0.23,12.8],[0.25,14.3],[0.26,8.7],[0.28,9.0],[0.3,13.0],[0.32,13.3],[0.34,12.6],[0.35,10.4],[0.37,14.2],[0.39,13.7],[0.41,14.8],[0.43,13.5],[0.44,15.4],[0.46,14.5],[0.48,16.0],[0.5,18.3],[0.52,16.0],[0.53,18.4],[0.55,18.9],[0.57,19.8],[0.59,18.3],[0.61,21.5],[0.62,19.3],[0.64,18.9],[0.66,18.1],[0.68,17.1],[0.7,17.7],[0.71,17.4],[0.73,17.7],[0.75,17.2],[0.77,15.2],[0.79,14.5],[0.8,14.8],[0.82,14.2],[0.84,16.9],[0.86,14.7],[0.88,12.6],[0.89,14.3],[0.91,13.8],[0.93,15.2],[0.95,14.5],[0.97,14.2],[0.98,15.4],[1.0,14.0],[1.02,13.0],[1.04,13.8],[1.06,11.9],[1.07,14.2],[1.09,14.8],[1.11,13.3],[1.13,13.5],[1.15,12.3],[1.16,11.3],[1.18,12.1],[1.2,11.8],[1.22,12.3],[1.24,10.8],[1.25,12.5],[1.27,11.9],[1.29,12.6],[1.31,11.8],[1.33,13.3],[1.34,12.8],[1.36,11.1],[1.38,12.5],[1.4,11.8],[1.42,13.3],[1.43,12.8],[1.45,14.2],[1.47,13.8],[1.49,14.3],[1.51,13.5],[1.52,13.3],[1.54,13.1],[1.56,13.7],[1.58,13.1],[1.6,12.6],[1.61,13.5],[1.63,13.1],[1.65,12.5],[1.67,13.0],[1.69,12.6],[1.7,12.8],[1.72,13.8],[1.74,13.5],[1.76,13.1],[1.78,14.0],[1.79,13.7],[1.81,13.8],[1.83,13.5],[1.85,15.2],[1.87,14.2],[1.88,13.7],[1.9,13.5],[1.92,14.0],[1.94,13.3],[1.96,13.5],[1.97,14.0],[1.99,14.3],[2.01,14.2],[2.03,14.5],[2.05,16.6],[2.06,14.5],[2.08,14.8],[2.1,14.0],[2.12,14.8],[2.14,14.3],[2.15,13.5],[2.17,14.5],[2.19,14.2],[2.21,14.3],[2.23,14.2],[2.24,15.0],[2.26,15.0],[2.28,15.2],[2.3,16.2],[2.32,16.9],[2.33,15.0],[2.35,14.0],[2.37,13.8],[2.39,13.1],[2.41,13.7],[2.42,12.6],[2.44,11.9],[2.46,11.1],[2.48,11.8],[2.5,15.9],[2.51,13.1],[2.53,13.0],[2.55,12.3],[2.57,11.4],[2.59,12.3],[2.6,13.5],[2.62,15.0],[2.64,14.2],[2.66,13.0],[2.68,11.9],[2.69,12.8],[2.71,14.2],[2.73,12.5],[2.75,11.8],[2.77,11.1],[2.79,12.3],[2.8,13.8],[2.82,12.8],[2.84,13.5],[2.86,16.2],[2.88,14.8],[2.89,14.0],[2.91,14.2],[2.93,13.1],[2.95,12.8],[2.97,11.9],[2.98,12.8],[3.0,11.8],[3.02,13.8],[3.04,13.0],[3.06,12.5],[3.07,13.1],[3.09,12.6],[3.11,11.8],[3.13,12.3],[3.15,13.1],[3.16,12.6],[3.18,13.7],[3.2,10.6],[3.22,12.5],[3.24,14.0],[3.25,15.2],[3.27,13.0],[3.29,12.3],[3.31,11.4],[3.33,12.8],[3.34,11.4],[3.36,12.6],[3.38,11.9],[3.4,12.6],[3.42,10.8],[3.43,11.4],[3.45,10.6],[3.47,10.4],[3.49,11.6],[3.51,10.4],[3.52,13.3],[3.54,13.1],[3.56,12.3],[3.58,13.1],[3.6,11.8],[3.61,11.3],[3.63,11.9],[3.65,11.1],[3.67,11.9],[3.69,10.9],[3.7,11.8],[3.72,12.5],[3.74,11.4],[3.76,10.9],[3.78,11.3],[3.79,10.4],[3.81,9.6],[3.83,10.1],[3.85,9.2],[3.87,9.9],[3.88,9.2],[3.9,10.4],[3.92,9.2],[3.94,10.8],[3.96,9.9],[3.97,9.6],[3.99,9.6],[4.01,13.8],[4.03,10.4],[4.05,11.4],[4.06,11.6],[4.08,10.2],[4.1,10.8],[4.12,11.4],[4.14,10.4],[4.15,10.6],[4.17,10.2],[4.19,9.9],[4.21,9.4],[4.23,12.5],[4.24,12.1],[4.26,13.1],[4.28,12.8],[4.3,10.6],[4.32,11.8],[4.33,12.8],[4.35,12.6],[4.37,11.1],[4.39,11.8],[4.41,10.4],[4.42,12.5],[4.44,10.8],[4.46,13.7],[4.48,10.9],[4.5,11.6],[4.51,12.8],[4.53,11.4],[4.55,12.5],[4.57,14.2],[4.59,13.1],[4.6,14.2],[4.62,15.7],[4.64,14.8],[4.66,14.7],[4.68,12.8],[4.69,12.1],[4.71,13.0],[4.73,13.7],[4.75,13.1],[4.77,12.5],[4.78,12.1],[4.8,12.5],[4.82,11.4],[4.84,10.6],[4.86,11.3],[4.87,10.1],[4.89,11.6],[4.91,11.1],[4.93,11.3],[4.95,11.8],[4.96,10.8],[4.98,10.2],[5.0,12.5],[5.02,11.4],[5.04,10.8],[5.06,11.6],[5.07,10.6],[5.09,11.8],[5.11,13.1],[5.13,12.6],[5.14,12.1],[5.16,11.8],[5.18,12.5],[5.2,13.0],[5.22,11.9],[5.23,10.9],[5.25,13.1],[5.27,13.7],[5.29,12.8],[5.31,14.0],[5.32,11.9],[5.34,9.7],[5.36,10.1],[5.38,10.8],[5.4,9.6],[5.41,11.9],[5.43,12.6],[5.45,10.8],[5.47,8.9],[5.49,11.4],[5.5,12.5],[5.52,12.1],[5.54,13.1],[5.56,11.4],[5.58,13.3],[5.59,13.0],[5.61,12.5],[5.63,11.1],[5.65,10.4],[5.67,12.3],[5.68,9.0],[5.7,10.1],[5.72,9.0],[5.74,10.2],[5.76,10.4],[5.77,11.6],[5.79,9.7],[5.81,11.4],[5.83,11.8],[5.85,13.7],[5.86,13.3],[5.88,11.9],[5.9,11.4],[5.92,10.6],[5.94,11.9],[5.95,12.3],[5.97,11.8],[5.99,11.4],[6.01,11.9],[6.03,11.6],[6.04,12.1],[6.06,10.6],[6.08,9.6],[6.1,11.8],[6.12,12.5],[6.13,11.8],[6.15,12.6],[6.17,12.1],[6.19,10.6],[6.21,11.4],[6.22,12.1],[6.24,10.4],[6.26,12.5],[6.28,11.8],[6.3,13.0],[6.31,13.8],[6.33,12.5],[6.35,11.8],[6.37,12.6],[6.39,12.5],[6.41,12.8],[6.42,12.5],[6.44,12.8],[6.46,14.3],[6.48,13.3],[6.5,12.3],[6.51,10.4],[6.53,9.2],[6.55,12.1],[6.57,12.8],[6.58,11.8],[6.6,10.8],[6.62,11.8],[6.64,12.5],[6.66,10.8],[6.68,11.6],[6.69,10.4],[6.71,9.7],[6.73,14.2],[6.75,13.8],[6.77,13.5],[6.78,15.2],[6.8,14.5],[6.82,13.5],[6.84,12.5],[6.86,14.2],[6.87,13.1],[6.89,12.6],[6.91,14.2],[6.93,13.3],[6.95,12.5],[6.96,13.0],[6.98,12.1],[7.0,12.6],[7.02,10.1],[7.04,14.7],[7.05,15.5],[7.07,19.5],[7.09,18.9],[7.11,17.2],[7.13,15.2]];
const etC2 = [[0,4.72],[0.03,4.43],[0.05,4.65],[0.08,4.83],[0.11,5.12],[0.14,5.01],[0.17,5.23],[0.2,5.16],[0.23,5.41],[0.26,5.3],[0.29,5.52],[0.32,5.45],[0.35,5.38],[0.38,5.64],[0.41,5.55],[0.44,5.74],[0.5,5.84],[0.53,5.74],[0.6,5.77],[0.7,5.72],[0.8,5.76],[0.9,5.71],[1.0,5.76],[1.1,5.72],[1.2,5.77],[1.3,5.73],[1.4,5.76],[1.5,5.71],[1.6,5.76],[1.7,5.72],[1.8,5.75],[1.9,5.71],[2.0,5.76],[2.1,5.73],[2.2,5.77],[2.3,5.72],[2.4,5.76],[2.5,5.71],[2.6,5.75],[2.7,5.72],[2.8,5.77],[2.9,5.73],[3.0,5.76],[3.1,5.71],[3.2,5.74],[3.24,5.59],[3.3,5.75],[3.4,5.72],[3.5,5.76],[3.6,5.71],[3.7,5.76],[3.8,5.73],[3.9,5.76],[4.0,5.71],[4.1,5.75],[4.2,5.72],[4.3,5.77],[4.4,5.73],[4.5,5.76],[4.6,5.71],[4.7,5.76],[4.8,5.73],[4.9,5.77],[5.0,5.72],[5.1,5.76],[5.2,5.73],[5.3,5.78],[5.4,5.72],[5.5,5.76],[5.6,5.73],[5.7,5.75],[5.76,5.41],[5.8,5.74],[5.9,5.71],[6.0,5.76],[6.1,5.72],[6.2,5.75],[6.3,5.71],[6.4,5.76],[6.5,5.73],[6.6,5.77],[6.7,5.72],[6.78,5.52],[6.85,5.74],[6.95,5.71],[7.05,5.76],[7.14,5.73]];
const spC2 = [[0,95.2],[0.04,96.1],[0.07,94.8],[0.12,95.2],[0.18,94.3],[0.24,95.0],[0.3,94.5],[0.36,95.2],[0.42,94.8],[0.48,95.1],[0.65,95.1],[0.69,96.5],[0.72,97.1],[0.78,97.1],[0.82,96.1],[0.9,96.1],[0.94,95.7],[0.99,96.1],[1.08,96.2],[1.14,95.2],[1.2,96.1],[1.26,96.1],[1.32,95.4],[1.38,96.1],[1.44,95.2],[1.5,96.1],[1.56,95.0],[1.62,96.1],[1.68,96.2],[1.74,95.2],[1.81,96.1],[1.87,95.1],[1.93,96.1],[1.99,95.2],[2.05,96.1],[2.11,95.4],[2.17,96.1],[2.23,96.2],[2.29,95.1],[2.53,95.1],[2.59,96.1],[2.65,95.1],[2.71,95.1],[2.77,94.5],[2.83,94.1],[2.89,95.0],[2.95,94.5],[3.01,95.2],[3.07,96.1],[3.13,95.1],[3.19,96.1],[3.25,95.2],[3.31,96.1],[3.37,97.1],[3.43,95.9],[3.49,95.7],[3.55,95.0],[3.61,94.8],[3.67,93.9],[3.73,94.5],[3.77,93.0],[3.8,93.9],[3.85,93.4],[3.89,92.3],[3.92,93.9],[3.97,94.3],[4.02,93.0],[4.07,92.1],[4.1,94.8],[4.15,96.1],[4.21,96.1],[4.27,97.1],[4.33,96.1],[4.39,97.1],[4.45,96.1],[4.51,97.1],[4.57,96.1],[4.63,97.1],[4.69,96.1],[4.75,97.1],[4.81,96.1],[5.05,96.1],[5.11,97.1],[5.17,97.4],[5.23,96.8],[5.29,97.1],[5.35,96.3],[5.42,96.1],[5.72,95.9],[5.75,93.8],[5.79,96.1],[5.9,96.1],[5.96,95.1],[6.08,95.1],[6.14,96.1],[6.2,95.1],[6.26,96.1],[6.32,95.2],[6.38,96.1],[6.44,95.4],[6.5,96.1],[6.56,96.5],[6.59,96.1],[6.64,96.3],[6.69,95.2],[6.74,95.9],[6.8,94.0],[6.86,95.2],[6.92,96.1],[6.98,95.4],[7.04,96.2],[7.1,96.1]];

// Event times (h) and their labels
const evA1 = [0.78,2.78,3.78,4.78,5.78,6.78];
const evLabA1 = ['PLACEBO\nSTART','FENT1','FENT2','FENT3','','PLACEBO\nSTOP'];
const evSpA1 = [0.78,2.78,3.78,4.78,5.78,6.78];
const evA2 = [0.6,2.6,3.6,4.6,5.6,6.6];
const evLabA2 = ['BUPR\nSTART','FENT1','FENT2','FENT3','FENT4','BUPR\nSTOP'];
const evSpA2 = [0.82,2.82,3.83,6.1];
const evB1 = [0.9,2.66,3.66,4.66,5.66,6.67];
const evLabB1 = ['PLACEBO\nSTART','FENT1','FENT2','FENT3','FENT4','STOP\nPLACEBO'];
const evSpB1 = [0.9,2.65,3.65,4.65,6.65];
const evB2 = [0.73,3.6,4.6,5.61,6.61,7.61];
const evLabB2 = ['BUPR\nSTART','FENT1','FENT2','FENT3','FENT4','BUPR\nSTOP'];
const evSpB2 = [0.76,3.62,4.62,5.61,6.62];
const evC1 = [0.63,2.64,3.63,4.64,5.64,6.64];
const evLabC1 = ['PLACEBO\nSTART','FENT1','FENT2','FENT3','FENT4','PLACEBO\nSTOP'];
const evSpC1 = [0.64,2.63,3.63,4.63,5.63,6.63];
const evC2 = [0.65,2.65,3.66,4.66,5.66,6.65];
const evLabC2 = ['BUPR\nSTART','FENT1','FENT2','FENT3','FENT4','BUPR\nSTOP'];
const evSpC2 = [0.65,2.65,3.65,4.64,5.64,6.64];

// Clock-time labels under the time axes [text, hour]
const clockA2 = [['09:28',0.87],['15:28',6.6]];
const clockB1 = [['09:03',0],['09:56',0.9],['11:41',2.66],['15:41',6.67]];
const clockB2 = [['09:22',0],['10:05',0.73],['12:05',3.6],['16:05',7.61]];

// Tick values
const ventTicks3 = [0,10,20,30];
const ventTicks2 = [0,10,20];
const spTicks80 = [80,85,90,95,100];
const spTicks85 = [85,90,95,100];

const sectionTitles = ['A. Low-Dose Buprenorphine','B. Middle-Dose Buprenorphine','C. High-Dose Buprenorphine'];
const panelTitles = ['S201 Placebo','S201 Buprenorphine','S206 Placebo','S206 Buprenorphine','S202 Placebo','S202 Buprenorphine'];
const captionLines = ['Low-Dose (n=2), Middle-Dose (n=3) and High-Dose (n=3) infusions yielded mean arterial plasma concentrations of 1.1 ng/mL, 2.3 ng/mL and 6.1 ng/mL,','respectively.'];

// ---------------- STYLE / LAYOUT ----------------
const NAVY = '#27348f';
const SPO2C = '#ef5d3c';
const RED = '#d8262d';
const INK = '#1a1a1a';
const NARROW = "'Liberation Sans Narrow','Arial Narrow','DejaVu Sans Condensed','Roboto Condensed',Roboto,sans-serif";
const SANS = "'Noto Sans','Open Sans',sans-serif";
const CONDENSE = 0.85; // horizontal squeeze for texts set in a narrow face

const panels = [
 {vent:{l:192.5,t:216,w:640.5,h:392.2,xMax:7.5,yMax:35,yTicks:ventTicks3,data:ventA1},
  et:{t:216,h:73.6,min:5,max:8,ticks:[5,6,7,8],labels:[6,8],data:etA1,base:6.8},
  sp:{l:192,t:661,w:640,h:153,xMax:7.5,yMin:80,yMax:102.07,yTicks:spTicks80,data:spA1,ev:evSpA1},
  ev:evA1,evLab:evLabA1,evDist:7},
 {vent:{l:1009,t:212.5,w:639,h:395.7,xMax:7,yMax:25,yTicks:ventTicks2,data:ventA2,altLabels:true},
  et:{t:212.5,h:112.8,min:5,max:9,ticks:[5,6,7,8,9],labels:[6,8],data:etA2,base:6.62},
  sp:{l:1006,t:663,w:643,h:151,xMax:6.5,yMin:85,yMax:101.55,yTicks:spTicks85,data:spA2,ev:evSpA2},
  ev:evA2,evLab:evLabA2,evDist:4,clock:clockA2,clockDy:21},
 {vent:{l:188,t:1099.6,w:644,h:400.8,xMax:7,yMax:24.13,yTicks:ventTicks2,data:ventB1,ref:20},
  et:{t:1091.5,h:93.5,min:4.5,max:7.25,ticks:[4.5,5,5.5,6,6.5,7],labels:[5,6,7],data:etB1,base:6.3},
  sp:{l:188.4,t:1580,w:644.6,h:158,xMax:6.9,yMin:80,yMax:100.26,yTicks:spTicks80,data:spB1,ev:evSpB1},
  ev:evB1,evLab:evLabB1,evDist:6,clock:clockB1,clockDy:50},
 {vent:{l:1009,t:1087.3,w:644.3,h:413.1,xMax:8,yMax:30,yTicks:ventTicks3,data:ventB2,ref:20},
  et:{t:1087,h:92.6,min:4,max:8,ticks:[4,5,6,7,8],labels:[5,7],data:etB2,base:6.24},
  sp:{l:1006.4,t:1569,w:645.6,h:169.3,xMax:8,yMin:80,yMax:100.95,yTicks:spTicks80,data:spB2,ev:evSpB2},
  ev:evB2,evLab:evLabB2,evDist:-5,clock:clockB2,clockDy:51},
 {vent:{l:190.8,t:2029.8,w:643.8,h:400,xMax:7.24,yMax:35,yTicks:ventTicks3,data:ventC1},
  et:{t:2029.8,h:54.2,min:5,max:7,ticks:[5,6,7],labels:[6],data:etC1,base:5.35},
  sp:{l:190.6,t:2492.7,w:640.2,h:156.6,xMax:7.19,yMin:80,yMax:102.1,yTicks:spTicks80,data:spC1,ev:evSpC1},
  ev:evC1,evLab:evLabC1,evDist:19},
 {vent:{l:1006.4,t:2010.6,w:641.5,h:419.2,xMax:7.2,yMax:35,yTicks:ventTicks3,data:ventC2,ref:18},
  et:{t:2010.6,h:56.4,min:5,max:7,ticks:[5,6,7],labels:[6],data:etC2,base:5.74},
  sp:{l:1006.4,t:2485,w:640.3,h:164.3,xMax:7.19,yMin:80,yMax:102.2,yTicks:spTicks80,data:spC2,ev:evSpC2},
  ev:evC2,evLab:evLabC2,evDist:0}
];

function steps(a,b,s){const r=[];for(let v=a;v<=b+1e-9;v+=s)r.push(Math.round(v*100)/100);return r;}
const lineAx = w=>({show:true,onZero:false,lineStyle:{color:'#111',width:w}});
const tickSt = {color:'#111',width:2};
const lab = {fontFamily:NARROW,fontSize:22,color:INK};

const option = {animation:false,backgroundColor:'transparent',textStyle:{fontFamily:NARROW},
  grid:[],xAxis:[],yAxis:[],series:[]};

function addGrid(l,t,w,h){option.grid.push({left:l,top:t,width:w,height:h,containLabel:false,outerBoundsMode:'none'});return option.grid.length-1;}
function addX(o){option.xAxis.push(Object.assign({type:'value',position:'bottom',splitLine:{show:false}},o));return option.xAxis.length-1;}
function addY(o){option.yAxis.push(Object.assign({type:'value',splitLine:{show:false}},o));return option.yAxis.length-1;}
function timeAxes(g,xMax,showLabels){
  const main = addX({gridIndex:g,min:0,max:xMax,axisLine:lineAx(3),
    axisTick:{show:true,length:7,lineStyle:tickSt,customValues:steps(0,Math.floor(xMax),1)},
    axisLabel:Object.assign({show:showLabels,margin:16,customValues:steps(0,Math.floor(xMax),1)},lab)});
  addX({gridIndex:g,min:0,max:xMax,axisLine:{show:false},
    axisTick:{show:true,length:4,lineStyle:tickSt,customValues:steps(0.5,xMax,1)},axisLabel:{show:false}});
  return main;
}

panels.forEach(p=>{
  const V=p.vent,E=p.et,S=p.sp;
  // ventilation grid
  p.gv = addGrid(V.l,V.t,V.w,V.h);
  const xv = timeAxes(p.gv,V.xMax,!V.altLabels);
  if(V.altLabels){
    addX({gridIndex:p.gv,min:-1,max:V.xMax,axisLine:{show:false},axisTick:{show:false},
      axisLabel:Object.assign({margin:16,customValues:[-1,1,2,3,4,5,6,7],formatter:v=>v===-1?'0':String(v)},lab)});
  }
  const yv = addY({gridIndex:p.gv,min:0,max:V.yMax,axisLine:lineAx(2),
    axisTick:{show:true,length:7,lineStyle:tickSt,customValues:V.yTicks},
    axisLabel:Object.assign({margin:16,customValues:V.yTicks},lab)});
  const ml = p.ev.map((t,i)=>{const s=p.evLab[i];return {xAxis:t,label:s?{show:true,formatter:s}:{show:false}};});
  if(V.ref!=null) ml.push({yAxis:V.ref,label:{show:false}});
  option.series.push({type:'line',xAxisIndex:xv,yAxisIndex:yv,data:V.data,symbol:'circle',symbolSize:10,
    showSymbol:true,showAllSymbol:true,z:4,lineStyle:{color:NAVY,width:1.5},
    itemStyle:{color:'#ffffff',borderColor:NAVY,borderWidth:1.7},emphasis:{disabled:true},
    markLine:{silent:true,symbol:['none','none'],z:1,animation:false,
      lineStyle:{type:[2,3],color:'#333',width:1},
      label:{position:'end',distance:p.evDist,fontFamily:NARROW,fontSize:13,color:'#222',lineHeight:16},
      data:ml}});
  // ETCO2 overlay grid
  p.ge = addGrid(V.l,E.t,V.w,E.h);
  const xe = addX({gridIndex:p.ge,min:0,max:V.xMax,show:false});
  const ye = addY({gridIndex:p.ge,position:'right',min:E.min,max:E.max,axisLine:lineAx(2),
    axisTick:{show:true,length:8,lineStyle:tickSt,customValues:E.ticks},
    axisLabel:Object.assign({margin:14,customValues:E.labels},lab)});
  option.series.push({type:'line',xAxisIndex:xe,yAxisIndex:ye,data:E.data,symbol:'none',clip:false,z:3,
    lineStyle:{color:NAVY,width:1.3},emphasis:{disabled:true},
    markLine:{silent:true,symbol:['none','none'],z:1,animation:false,label:{show:false},
      lineStyle:{type:[2,3],color:'#333',width:1},data:[{yAxis:E.base}]}});
  // SpO2 grid
  p.gs = addGrid(S.l,S.t,S.w,S.h);
  const xs = timeAxes(p.gs,S.xMax,true);
  const ys = addY({gridIndex:p.gs,position:'left',min:S.yMin,max:S.yMax,axisLine:lineAx(2),
    axisTick:{show:true,length:7,lineStyle:tickSt,customValues:S.yTicks},
    axisLabel:Object.assign({margin:16,customValues:S.yTicks},lab)});
  addY({gridIndex:p.gs,position:'right',min:S.yMin,max:S.yMax,axisLine:lineAx(2),axisTick:{show:false},axisLabel:{show:false}});
  option.series.push({type:'line',xAxisIndex:xs,yAxisIndex:ys,data:S.data,symbol:'none',z:3,
    lineStyle:{color:SPO2C,width:1.6},emphasis:{disabled:true},
    markLine:{silent:true,symbol:['none','none'],z:1,animation:false,label:{show:false},
      lineStyle:{type:[2,3],color:'#333',width:1},
      data:S.ev.map(t=>({xAxis:t})).concat([{yAxis:90,lineStyle:{type:'solid',color:'#3a3a3a',width:2}}])}});
});

const chart = echarts.init(document.getElementById('c'),null,{renderer:'svg',width:1679,height:2836});
chart.setOption(option);

// ---------------- TEXT (titles, axis names, notes) ----------------
const G = [];
function txt(text,x,y,o){
  o=o||{};
  const fam=o.family||SANS;
  G.push({type:'text',x:x,y:y,rotation:o.rot||0,scaleX:(fam===NARROW?CONDENSE:1),silent:true,z:10,
    style:{text:text,x:0,y:0,fill:o.fill||INK,fontSize:o.size||23,fontFamily:fam,
      fontWeight:o.weight||'normal',align:o.align||'center',verticalAlign:o.va||'middle',lineHeight:o.lh}});
}
const px = (g,x,y)=>chart.convertToPixel({gridIndex:g},[x,y]);

txt(sectionTitles[0],39,55,{size:41,family:NARROW,align:'left',fill:'#222'});
txt(sectionTitles[1],40,966,{size:41,family:NARROW,align:'left',fill:'#222'});
txt(sectionTitles[2],40,1888,{size:41,family:NARROW,align:'left',fill:'#222'});
const titlePos=[[512,118],[1327,118],[509,1031],[1330,1028],[511,1951],[1326,1950]];
panelTitles.forEach((t,i)=>txt(t,titlePos[i][0],titlePos[i][1],{size:30,weight:'bold',fill:'#111'}));

const ventName=[[105.7,412.5],[931,410],[100.3,1319],[931,1318],[105.7,2219.6],[931,2218.6]];
const etName=[['ETCO₂ (kPa)',859,412],['ETCO₂ (kPa)',1659,412],['ET CO₂ (kPa)',870.7,1316],['ET CO₂ (kPa)',1659,1314],['ETCO₂ (kPa)',868,2243],['ETCO₂ (kPa)',1659,2223]];
const spName=[[104,738],[926,745],[101.7,1648],[923,1655],[104,2594],[926,2594]];
for(let i=0;i<6;i++){
  txt('Ventilation (L/min)',ventName[i][0],ventName[i][1],{size:23,weight:'bold',rot:Math.PI/2});
  txt(etName[i][0],etName[i][1],etName[i][2],{size:22,weight:'bold',rot:-Math.PI/2});
  txt('SpO₂ (%)',spName[i][0],spName[i][1],{size:23,weight:'bold',rot:Math.PI/2});
}
[[512,883],[1328,883],[509,1803],[1331,1803]].forEach(p=>txt('Time (h)',p[0],p[1],{size:23,weight:'bold'}));

panels.forEach(p=>{
  if(!p.clock) return;
  p.clock.forEach(c=>{const q=px(p.gv,c[1],0);txt(c[0],q[0],q[1]+p.clockDy,{size:15,family:NARROW,fill:'#222'});});
});
// C1 clock-time ends of the axis
{const a=px(panels[4].gv,0,0),b=px(panels[4].gv,7.24,0);
 txt('09:00 AM',a[0]-19,a[1]+25,{size:18,family:NARROW,align:'right',fill:'#222'});
 txt('4:00 PM',b[0]+1,b[1]+25,{size:18,family:NARROW,align:'left',fill:'#222'});}
// B2 small axis tag
{const a=px(panels[3].gv,0,28.3);txt('V [L/min ]',a[0]-36,a[1],{size:14,family:NARROW,align:'right',fill:'#222'});}

// red annotations
{let q=px(panels[0].gv,1.3,27.7);txt('full bladder',q[0],q[1],{size:15,family:NARROW,fill:RED});
 q=px(panels[0].gv,2.42,27.7);txt('full bladder',q[0],q[1],{size:15,family:NARROW,fill:RED});
 q=px(panels[0].gv,4.28,3.0);txt('apnoea/\nstimulation',q[0],q[1],{size:15,family:NARROW,fill:RED,lh:15});
 q=px(panels[2].gv,6.02,2.0);txt('apnoea\n(2 min)',q[0],q[1],{size:15,family:NARROW,fill:RED,align:'left',lh:14});
 q=px(panels[4].gv,1.15,17.7);txt('full bladder',q[0],q[1],{size:15,family:NARROW,fill:RED,rot:-Math.PI/2});
 q=px(panels[4].gv,6.08,2.8);txt('apnoea/\nstimulation',q[0],q[1],{size:15,family:NARROW,fill:RED,align:'left',lh:15});
 q=px(panels[5].gs,4.75,87.9);txt('finger probe not\ncorrectly placed',q[0],q[1],{size:13,family:NARROW,fill:RED,lh:13});}

// caption
txt(captionLines[0],37,2789,{size:22.6,align:'left',fill:'#5f5f5f'});
txt(captionLines[1],37,2820,{size:22.6,align:'left',fill:'#5f5f5f'});

chart.setOption({graphic:{elements:G}});
</script></body></html>
